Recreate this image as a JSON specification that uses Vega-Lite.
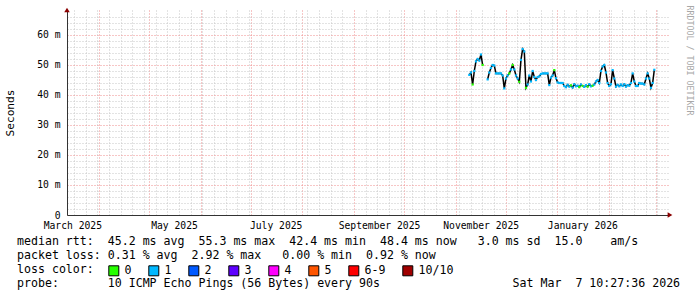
{
  "$schema": "https://vega.github.io/schema/vega-lite/v6.json",
  "width": 603,
  "height": 205,
  "autosize": "none",
  "padding": {"left": 67, "top": 10, "right": 27, "bottom": 82},
  "background": "#ffffff",
  "config": {"view": {"stroke": null}, "font": "DejaVu Sans Mono"},
  "data": {
    "values": [
      {"t": "2025-11-09T04:00", "rtt": 46.7, "loss": "1"},
      {"t": "2025-11-10T04:00", "rtt": 47.5, "loss": "1"},
      {"t": "2025-11-11T04:00", "rtt": 43.5, "loss": "0"},
      {"t": "2025-11-12T04:00", "rtt": 48.0, "loss": "1"},
      {"t": "2025-11-13T04:00", "rtt": 51.2, "loss": "1"},
      {"t": "2025-11-14T04:00", "rtt": 52.0, "loss": "1"},
      {"t": "2025-11-15T04:00", "rtt": 51.5, "loss": "1"},
      {"t": "2025-11-16T04:00", "rtt": 53.5, "loss": "1"},
      {"t": "2025-11-17T04:00", "rtt": 50.0, "loss": "0"},
      {"t": "2025-11-18T04:00", "rtt": null, "loss": null},
      {"t": "2025-11-19T04:00", "rtt": null, "loss": null},
      {"t": "2025-11-20T04:00", "rtt": 45.2, "loss": "1"},
      {"t": "2025-11-21T04:00", "rtt": 47.5, "loss": "1"},
      {"t": "2025-11-22T04:00", "rtt": 49.0, "loss": "1"},
      {"t": "2025-11-23T04:00", "rtt": 50.0, "loss": "1"},
      {"t": "2025-11-24T04:00", "rtt": 49.8, "loss": "1"},
      {"t": "2025-11-25T04:00", "rtt": 47.2, "loss": "1"},
      {"t": "2025-11-26T04:00", "rtt": 47.2, "loss": "1"},
      {"t": "2025-11-27T04:00", "rtt": 47.2, "loss": "1"},
      {"t": "2025-11-28T04:00", "rtt": 47.2, "loss": "1"},
      {"t": "2025-11-29T04:00", "rtt": 46.5, "loss": "1"},
      {"t": "2025-11-30T04:00", "rtt": 42.2, "loss": "1"},
      {"t": "2025-12-01T04:00", "rtt": 45.5, "loss": "1"},
      {"t": "2025-12-02T04:00", "rtt": 46.5, "loss": "1"},
      {"t": "2025-12-03T04:00", "rtt": 47.2, "loss": "0"},
      {"t": "2025-12-04T04:00", "rtt": 48.5, "loss": "1"},
      {"t": "2025-12-05T04:00", "rtt": 50.0, "loss": "0"},
      {"t": "2025-12-06T04:00", "rtt": 48.5, "loss": "1"},
      {"t": "2025-12-07T04:00", "rtt": 46.5, "loss": "1"},
      {"t": "2025-12-08T04:00", "rtt": 45.5, "loss": "1"},
      {"t": "2025-12-09T04:00", "rtt": 44.4, "loss": "0"},
      {"t": "2025-12-10T04:00", "rtt": 51.7, "loss": "1"},
      {"t": "2025-12-11T04:00", "rtt": 55.3, "loss": "1"},
      {"t": "2025-12-12T04:00", "rtt": 54.5, "loss": "1"},
      {"t": "2025-12-13T04:00", "rtt": 42.4, "loss": "0"},
      {"t": "2025-12-14T04:00", "rtt": 43.5, "loss": "1"},
      {"t": "2025-12-15T04:00", "rtt": 46.5, "loss": "1"},
      {"t": "2025-12-16T04:00", "rtt": 44.5, "loss": "1"},
      {"t": "2025-12-17T04:00", "rtt": 48.0, "loss": "1"},
      {"t": "2025-12-18T04:00", "rtt": 46.0, "loss": "1"},
      {"t": "2025-12-19T04:00", "rtt": 45.0, "loss": "1"},
      {"t": "2025-12-20T04:00", "rtt": 46.0, "loss": "1"},
      {"t": "2025-12-21T04:00", "rtt": 46.2, "loss": "1"},
      {"t": "2025-12-22T04:00", "rtt": 47.0, "loss": "1"},
      {"t": "2025-12-23T04:00", "rtt": 47.2, "loss": "1"},
      {"t": "2025-12-24T04:00", "rtt": 47.2, "loss": "1"},
      {"t": "2025-12-25T04:00", "rtt": 47.2, "loss": "1"},
      {"t": "2025-12-26T04:00", "rtt": 47.2, "loss": "1"},
      {"t": "2025-12-27T04:00", "rtt": 43.3, "loss": "1"},
      {"t": "2025-12-28T04:00", "rtt": 45.8, "loss": "1"},
      {"t": "2025-12-29T04:00", "rtt": 46.5, "loss": "1"},
      {"t": "2025-12-30T04:00", "rtt": 48.3, "loss": "0"},
      {"t": "2025-12-31T04:00", "rtt": 45.6, "loss": "1"},
      {"t": "2026-01-01T04:00", "rtt": 44.2, "loss": "1"},
      {"t": "2026-01-02T04:00", "rtt": 44.0, "loss": "1"},
      {"t": "2026-01-03T04:00", "rtt": 44.0, "loss": "1"},
      {"t": "2026-01-04T04:00", "rtt": 44.0, "loss": "1"},
      {"t": "2026-01-05T04:00", "rtt": 43.0, "loss": "1"},
      {"t": "2026-01-06T04:00", "rtt": 42.6, "loss": "1"},
      {"t": "2026-01-07T04:00", "rtt": 43.4, "loss": "1"},
      {"t": "2026-01-08T04:00", "rtt": 42.8, "loss": "1"},
      {"t": "2026-01-09T04:00", "rtt": 43.2, "loss": "0"},
      {"t": "2026-01-10T04:00", "rtt": 42.5, "loss": "1"},
      {"t": "2026-01-11T04:00", "rtt": 43.6, "loss": "1"},
      {"t": "2026-01-12T04:00", "rtt": 42.9, "loss": "1"},
      {"t": "2026-01-13T04:00", "rtt": 43.1, "loss": "1"},
      {"t": "2026-01-14T04:00", "rtt": 42.6, "loss": "0"},
      {"t": "2026-01-15T04:00", "rtt": 43.5, "loss": "1"},
      {"t": "2026-01-16T04:00", "rtt": 43.0, "loss": "0"},
      {"t": "2026-01-17T04:00", "rtt": 42.7, "loss": "1"},
      {"t": "2026-01-18T04:00", "rtt": 43.3, "loss": "1"},
      {"t": "2026-01-19T04:00", "rtt": 42.8, "loss": "0"},
      {"t": "2026-01-20T04:00", "rtt": 43.6, "loss": "1"},
      {"t": "2026-01-21T04:00", "rtt": 42.9, "loss": "1"},
      {"t": "2026-01-22T04:00", "rtt": 43.1, "loss": "0"},
      {"t": "2026-01-23T04:00", "rtt": 43.5, "loss": "1"},
      {"t": "2026-01-24T04:00", "rtt": 44.5, "loss": "1"},
      {"t": "2026-01-25T04:00", "rtt": 45.0, "loss": "1"},
      {"t": "2026-01-26T04:00", "rtt": 44.0, "loss": "1"},
      {"t": "2026-01-27T04:00", "rtt": 48.0, "loss": "1"},
      {"t": "2026-01-28T04:00", "rtt": 49.5, "loss": "1"},
      {"t": "2026-01-29T04:00", "rtt": 50.0, "loss": "1"},
      {"t": "2026-01-30T04:00", "rtt": 47.5, "loss": "1"},
      {"t": "2026-01-31T04:00", "rtt": 44.0, "loss": "1"},
      {"t": "2026-02-01T04:00", "rtt": 43.0, "loss": "1"},
      {"t": "2026-02-02T04:00", "rtt": 43.6, "loss": "1"},
      {"t": "2026-02-03T04:00", "rtt": 48.3, "loss": "1"},
      {"t": "2026-02-04T04:00", "rtt": 45.5, "loss": "1"},
      {"t": "2026-02-05T04:00", "rtt": 42.8, "loss": "1"},
      {"t": "2026-02-06T04:00", "rtt": 43.4, "loss": "1"},
      {"t": "2026-02-07T04:00", "rtt": 42.9, "loss": "1"},
      {"t": "2026-02-08T04:00", "rtt": 43.5, "loss": "1"},
      {"t": "2026-02-09T04:00", "rtt": 43.0, "loss": "1"},
      {"t": "2026-02-10T04:00", "rtt": 43.6, "loss": "1"},
      {"t": "2026-02-11T04:00", "rtt": 42.8, "loss": "1"},
      {"t": "2026-02-12T04:00", "rtt": 43.3, "loss": "1"},
      {"t": "2026-02-13T04:00", "rtt": 43.1, "loss": "1"},
      {"t": "2026-02-14T04:00", "rtt": 44.0, "loss": "1"},
      {"t": "2026-02-15T04:00", "rtt": 47.2, "loss": "1"},
      {"t": "2026-02-16T04:00", "rtt": 44.5, "loss": "1"},
      {"t": "2026-02-17T04:00", "rtt": 43.0, "loss": "1"},
      {"t": "2026-02-18T04:00", "rtt": 43.0, "loss": "1"},
      {"t": "2026-02-19T04:00", "rtt": 44.0, "loss": "1"},
      {"t": "2026-02-20T04:00", "rtt": 43.8, "loss": "1"},
      {"t": "2026-02-21T04:00", "rtt": 43.8, "loss": "1"},
      {"t": "2026-02-22T04:00", "rtt": 43.5, "loss": "1"},
      {"t": "2026-02-23T04:00", "rtt": 45.5, "loss": "1"},
      {"t": "2026-02-24T04:00", "rtt": 47.2, "loss": "1"},
      {"t": "2026-02-25T04:00", "rtt": 45.5, "loss": "1"},
      {"t": "2026-02-26T04:00", "rtt": 42.4, "loss": "1"},
      {"t": "2026-02-27T04:00", "rtt": 44.0, "loss": "1"},
      {"t": "2026-02-28T04:00", "rtt": 48.4, "loss": "1"}
    ]
  },
  "resolve": {"axis": {"x": "independent", "y": "independent"}},
  "layer": [
    {
      "mark": {"type": "line", "color": "#000000", "strokeWidth": 1.5, "invalid": "break-paths-show-domains"},
      "encoding": {
        "x": {
          "field": "t", "type": "temporal",
          "scale": {"domain": [{"year": 2025, "month": 3, "date": 12, "hours": 19}, {"year": 2026, "month": 3, "date": 9, "hours": 14}]},
          "axis": {
            "orient": "bottom", "title": null, "labels": false, "ticks": false,
            "domain": true, "domainColor": "#333333", "domainWidth": 1,
            "grid": true, "gridDash": [1, 2], "gridWidth": 1,
            "gridColor": {"condition": {"test": "date(datum.value) == 1", "value": "#ee8c8c"}, "value": "#c6c6c6"},
            "values": [
              {"year": 2025, "month": 3, "date": 17}, {"year": 2025, "month": 3, "date": 24}, {"year": 2025, "month": 3, "date": 31},
              {"year": 2025, "month": 4, "date": 7}, {"year": 2025, "month": 4, "date": 14}, {"year": 2025, "month": 4, "date": 21}, {"year": 2025, "month": 4, "date": 28},
              {"year": 2025, "month": 5, "date": 5}, {"year": 2025, "month": 5, "date": 12}, {"year": 2025, "month": 5, "date": 19}, {"year": 2025, "month": 5, "date": 26},
              {"year": 2025, "month": 6, "date": 2}, {"year": 2025, "month": 6, "date": 9}, {"year": 2025, "month": 6, "date": 16}, {"year": 2025, "month": 6, "date": 23}, {"year": 2025, "month": 6, "date": 30},
              {"year": 2025, "month": 7, "date": 7}, {"year": 2025, "month": 7, "date": 14}, {"year": 2025, "month": 7, "date": 21}, {"year": 2025, "month": 7, "date": 28},
              {"year": 2025, "month": 8, "date": 4}, {"year": 2025, "month": 8, "date": 11}, {"year": 2025, "month": 8, "date": 18}, {"year": 2025, "month": 8, "date": 25},
              {"year": 2025, "month": 9, "date": 8}, {"year": 2025, "month": 9, "date": 15}, {"year": 2025, "month": 9, "date": 22}, {"year": 2025, "month": 9, "date": 29},
              {"year": 2025, "month": 10, "date": 6}, {"year": 2025, "month": 10, "date": 13}, {"year": 2025, "month": 10, "date": 20}, {"year": 2025, "month": 10, "date": 27},
              {"year": 2025, "month": 11, "date": 3}, {"year": 2025, "month": 11, "date": 10}, {"year": 2025, "month": 11, "date": 17}, {"year": 2025, "month": 11, "date": 24},
              {"year": 2025, "month": 12, "date": 8}, {"year": 2025, "month": 12, "date": 15}, {"year": 2025, "month": 12, "date": 22}, {"year": 2025, "month": 12, "date": 29},
              {"year": 2026, "month": 1, "date": 5}, {"year": 2026, "month": 1, "date": 12}, {"year": 2026, "month": 1, "date": 19}, {"year": 2026, "month": 1, "date": 26},
              {"year": 2026, "month": 2, "date": 2}, {"year": 2026, "month": 2, "date": 9}, {"year": 2026, "month": 2, "date": 16}, {"year": 2026, "month": 2, "date": 23},
              {"year": 2026, "month": 3, "date": 2},
              {"year": 2025, "month": 4, "date": 1}, {"year": 2025, "month": 5, "date": 1}, {"year": 2025, "month": 6, "date": 1}, {"year": 2025, "month": 7, "date": 1},
              {"year": 2025, "month": 8, "date": 1}, {"year": 2025, "month": 9, "date": 1}, {"year": 2025, "month": 10, "date": 1}, {"year": 2025, "month": 11, "date": 1},
              {"year": 2025, "month": 12, "date": 1}, {"year": 2026, "month": 1, "date": 1}, {"year": 2026, "month": 2, "date": 1}, {"year": 2026, "month": 3, "date": 1}
            ]
          }
        },
        "y": {
          "field": "rtt", "type": "quantitative",
          "scale": {"domain": [0, 68.33], "nice": false, "zero": true},
          "axis": {
            "orient": "left",
            "values": [0, 2, 4, 6, 8, 10, 12, 14, 16, 18, 20, 22, 24, 26, 28, 30, 32, 34, 36, 38, 40, 42, 44, 46, 48, 50, 52, 54, 56, 58, 60, 62, 64, 66],
            "labelExpr": "datum.value % 10 == 0 ? (datum.value == 0 ? '0' : datum.value + ' m') : ''",
            "labelFont": "DejaVu Sans Mono", "labelFontSize": 9.7, "labelColor": "#000000",
            "labelPadding": 7, "ticks": false, "labelOverlap": false, "labelBound": false, "labelFlush": false,
            "domain": true, "domainColor": "#333333", "domainWidth": 1,
            "grid": true, "gridDash": [1, 2], "gridWidth": 1,
            "gridColor": {"condition": {"test": "datum.value % 10 == 0", "value": "#ee8c8c"}, "value": "#c6c6c6"},
            "title": "Seconds", "titleFont": "DejaVu Sans Mono", "titleFontSize": 11.2, "titleFontWeight": "normal",
            "titleColor": "#000000", "titleAngle": -90, "titleX": -57, "titleY": 102.5, "titleAlign": "center", "titleBaseline": "middle"
          }
        }
      }
    },
    {
      "mark": {"type": "tick", "orient": "horizontal", "size": 2.2, "thickness": 2.2, "opacity": 1},
      "encoding": {
        "x": {
          "field": "t", "type": "temporal",
          "axis": {
            "orient": "bottom",
            "values": [
              {"year": 2025, "month": 3, "date": 16}, {"year": 2025, "month": 5, "date": 16}, {"year": 2025, "month": 7, "date": 16},
              {"year": 2025, "month": 9, "date": 16}, {"year": 2025, "month": 11, "date": 16}, {"year": 2026, "month": 1, "date": 16}
            ],
            "format": "%B %Y", "labelFont": "DejaVu Sans Mono", "labelFontSize": 9.7, "labelColor": "#000000",
            "labelPadding": 5, "ticks": false, "domain": false, "grid": false,
            "labelOverlap": false, "labelBound": false, "labelFlush": false,
            "title": [
              "median rtt:\u00a0\u00a045.2\u00a0ms\u00a0avg\u00a0\u00a055.3\u00a0ms\u00a0max\u00a0\u00a042.4\u00a0ms\u00a0min\u00a0\u00a048.4\u00a0ms\u00a0now\u00a0\u00a0\u00a03.0\u00a0ms\u00a0sd\u00a0\u00a015.0\u00a0\u00a0\u00a0\u00a0am/s",
              "packet\u00a0loss:\u00a00.31\u00a0%\u00a0avg\u00a0\u00a02.92\u00a0%\u00a0max\u00a0\u00a0\u00a00.00\u00a0%\u00a0min\u00a0\u00a00.92\u00a0%\u00a0now",
              "loss\u00a0color:",
              "probe:\u00a0\u00a0\u00a0\u00a0\u00a0\u00a0\u00a010\u00a0ICMP\u00a0Echo\u00a0Pings\u00a0(56\u00a0Bytes)\u00a0every\u00a090s\u00a0\u00a0\u00a0\u00a0\u00a0\u00a0\u00a0\u00a0\u00a0\u00a0\u00a0\u00a0\u00a0\u00a0\u00a0\u00a0\u00a0\u00a0\u00a0Sat\u00a0Mar\u00a0\u00a07\u00a010:27:36\u00a02026"
            ],
            "titleFont": "DejaVu Sans Mono", "titleFontSize": 11.6, "titleFontWeight": "normal", "titleColor": "#000000",
            "titleX": -50.5, "titleY": 29, "titleAlign": "left", "titleAnchor": "start", "titleBaseline": "alphabetic",
            "titleLineHeight": 14, "titleAngle": 0
          }
        },
        "y": {
          "field": "rtt", "type": "quantitative",
          "axis": {
            "orient": "right", "labels": false, "ticks": false, "domain": false, "grid": false,
            "title": "RRDTOOL / TOBI OETIKER", "titleFont": "DejaVu Sans Mono", "titleFontSize": 8.3,
            "titleFontWeight": "normal", "titleColor": "#a8a8a8", "titleAngle": 90,
            "titleX": 18, "titleY": -5, "titleAlign": "left", "titleBaseline": "middle"
          }
        },
        "color": {
          "field": "loss", "type": "nominal",
          "scale": {
            "domain": ["0", "1", "2", "3", "4", "5", "6-9", "10/10"],
            "range": ["#26ff00", "#00b8ff", "#0059ff", "#5e00ff", "#ff00ff", "#ff5500", "#ff0000", "#a00000"]
          },
          "legend": {
            "orient": "none", "legendX": 41, "legendY": 255, "direction": "horizontal", "title": null,
            "padding": 0, "symbolType": "square", "symbolSize": 100, "symbolStrokeColor": "#000000",
            "symbolStrokeWidth": 1, "symbolOpacity": 1, "labelFont": "DejaVu Sans Mono", "labelFontSize": 11.6,
            "labelColor": "#000000", "labelOffset": 5, "columnPadding": 14, "gridAlign": "none", "labelLimit": 0
          }
        }
      }
    },
    {
      "data": {"values": [{"arrow": "y"}]},
      "mark": {"type": "point", "shape": "triangle-up", "filled": true, "color": "#8b0000", "size": 30, "opacity": 1, "clip": false},
      "encoding": {
        "x": {"datum": {"year": 2025, "month": 3, "date": 12, "hours": 19}, "type": "temporal", "axis": null},
        "y": {"datum": 68.33, "type": "quantitative", "axis": null}
      }
    },
    {
      "data": {"values": [{"arrow": "x"}]},
      "mark": {"type": "point", "shape": "triangle-right", "filled": true, "color": "#8b0000", "size": 30, "opacity": 1, "clip": false},
      "encoding": {
        "x": {"datum": {"year": 2026, "month": 3, "date": 9, "hours": 14}, "type": "temporal", "axis": null},
        "y": {"datum": 0, "type": "quantitative", "axis": null}
      }
    }
  ]
}
